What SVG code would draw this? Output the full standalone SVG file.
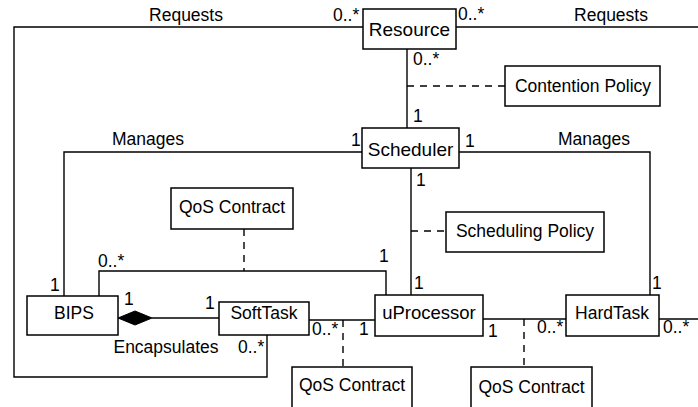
<svg xmlns="http://www.w3.org/2000/svg" width="698" height="407" viewBox="0 0 698 407">
<style>
.box{fill:#fff;stroke:#000;stroke-width:1.5}
.ln{fill:none;stroke:#000;stroke-width:1.4}
.dash{fill:none;stroke:#000;stroke-width:1.4;stroke-dasharray:7,6}
text{font-family:"Liberation Sans",Arial,sans-serif;font-size:17.5px;fill:#000}
.c{text-anchor:middle}
.big{font-size:19px}
</style>
<rect width="698" height="407" fill="#fff"/>
<g id="connectors">
<polyline class="ln" points="363,27 14,27 14,377 267,377 267,335"/>
<line class="ln" x1="456" y1="27" x2="698" y2="27"/>
<line class="ln" x1="407" y1="49" x2="407" y2="128"/>
<line class="dash" x1="407" y1="86" x2="505" y2="86"/>
<polyline class="ln" points="362,152 64,152 64,296"/>
<polyline class="ln" points="459,152 650,152 650,295"/>
<line class="ln" x1="411" y1="168" x2="411" y2="295"/>
<line class="dash" x1="411" y1="231" x2="446" y2="231"/>
<polyline class="ln" points="99,296 99,271 386,271 386,295"/>
<line class="dash" x1="244" y1="229" x2="244" y2="271"/>
<line class="ln" x1="152" y1="318" x2="219" y2="318"/>
<polygon points="118,318 135,311 152,318 135,325" fill="#000" stroke="#000" stroke-width="1"/>
<line class="ln" x1="309" y1="320" x2="375" y2="320"/>
<line class="dash" x1="343" y1="320" x2="343" y2="367"/>
<line class="ln" x1="483" y1="319" x2="566" y2="319"/>
<line class="dash" x1="524" y1="319" x2="524" y2="367"/>
<line class="ln" x1="659" y1="319" x2="698" y2="319"/>
</g>
<g id="labels">
<text x="186" y="21" class="c">Requests</text>
<text x="333" y="21">0..*</text>
<text x="458" y="20">0..*</text>
<text x="611" y="21" class="c">Requests</text>
<text x="413" y="65">0..*</text>
<text x="413" y="122">1</text>
<text x="148" y="145" class="c">Manages</text>
<text x="594" y="145" class="c">Manages</text>
<text x="351" y="146">1</text>
<text x="465" y="147">1</text>
<text x="416" y="186">1</text>
<text x="98" y="267">0..*</text>
<text x="379" y="262">1</text>
<text x="50" y="291">1</text>
<text x="414" y="289">1</text>
<text x="652" y="289">1</text>
<text x="124" y="305">1</text>
<text x="205" y="309">1</text>
<text x="166" y="353" class="c">Encapsulates</text>
<text x="238" y="353">0..*</text>
<text x="312" y="335">0..*</text>
<text x="359" y="335">1</text>
<text x="488" y="337">1</text>
<text x="537" y="333">0..*</text>
<text x="663" y="333">0..*</text>
</g>
<g id="resource"><rect class="box" x="363" y="9" width="93" height="40"/><text x="409.5" y="36" class="c big">Resource</text></g>
<g id="contention-policy"><rect class="box" x="505" y="66" width="155" height="40"/><text x="583" y="92" class="c">Contention Policy</text></g>
<g id="scheduler"><rect class="box" x="362" y="128" width="97" height="40"/><text x="410.5" y="156" class="c big">Scheduler</text></g>
<g id="qos-contract-top"><rect class="box" x="171" y="188" width="122" height="41"/><text x="232" y="213" class="c">QoS Contract</text></g>
<g id="scheduling-policy"><rect class="box" x="446" y="212" width="158" height="40"/><text x="525" y="237" class="c">Scheduling Policy</text></g>
<g id="bips"><rect class="box" x="27" y="296" width="91" height="39"/><text x="74" y="319" class="c">BIPS</text></g>
<g id="softtask"><rect class="box" x="219" y="302" width="90" height="33"/><text x="264" y="319" class="c">SoftTask</text></g>
<g id="uprocessor"><rect class="box" x="375" y="295" width="108" height="41"/><text x="429" y="319" class="c" style="font-size:18.5px">uProcessor</text></g>
<g id="hardtask"><rect class="box" x="566" y="295" width="93" height="41"/><text x="612" y="319" class="c">HardTask</text></g>
<g id="qos-contract-bottom-left"><rect class="box" x="292" y="367" width="120" height="50"/><text x="352" y="391" class="c">QoS Contract</text></g>
<g id="qos-contract-bottom-right"><rect class="box" x="471" y="367" width="121" height="50"/><text x="531.5" y="393" class="c">QoS Contract</text></g>
</svg>
